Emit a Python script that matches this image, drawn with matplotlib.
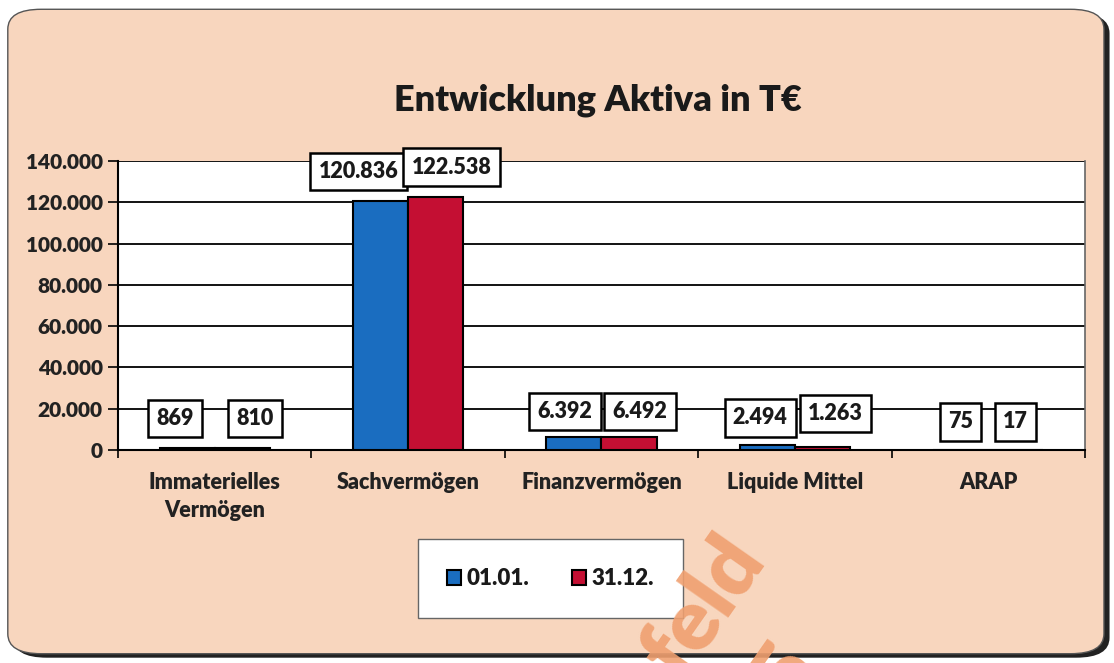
import matplotlib
matplotlib.use("Agg")
import matplotlib.pyplot as plt
from matplotlib.patches import FancyBboxPatch
from matplotlib.ticker import FuncFormatter
import numpy as np

categories = ["Immaterielles\nVermögen", "Sachvermögen", "Finanzvermögen", "Liquide Mittel", "ARAP"]
series_names = ["01.01.", "31.12."]
values_0101 = [869, 120836, 6392, 2494, 75]
values_3112 = [810, 122538, 6492, 1263, 17]
yticks = [0, 20000, 40000, 60000, 80000, 100000, 120000, 140000]
title = "Entwicklung Aktiva in T€"

# layout: label box offsets (px) relative to bar top-center
offs_0101 = [(-12, 30), (-22, 29), (-9, 25), (-7, 27), (0, 28)]
offs_3112 = [(13, 30), (16, 30), (11, 25), (13, 34), (0, 28)]

blue = "#1A6DC0"
red = "#C40F33"
bg = "#F8D6BE"
font = "Lato"
W = "heavy"
PX = 72 / 100.0

def fmt(v):
    return f"{v:,.0f}".replace(",", ".")

fig = plt.figure(figsize=(11.14, 6.63), dpi=100)
fig.patch.set_facecolor("white")

shadow = FancyBboxPatch((0.012, 0.008), 0.984, 0.972, boxstyle="round,pad=0,rounding_size=0.03",
                        transform=fig.transFigure, facecolor="#222222", edgecolor="none", zorder=0)
fig.patches.append(shadow)
panel = FancyBboxPatch((0.007, 0.014), 0.984, 0.972, boxstyle="round,pad=0,rounding_size=0.03",
                       transform=fig.transFigure, facecolor=bg, edgecolor="#555555", linewidth=1.0, zorder=1)
fig.patches.append(panel)

ax = fig.add_axes([0.1059, 0.3213, 0.8680, 0.4359])
ax.set_facecolor("white")
ax.set_zorder(2)

x = np.arange(len(categories))
w = 0.285
b1 = ax.bar(x - w/2, values_0101, width=w, color=blue, edgecolor="black", linewidth=1.5, zorder=3)
b2 = ax.bar(x + w/2, values_3112, width=w, color=red, edgecolor="black", linewidth=1.5, zorder=3)

ax.set_xlim(-0.5, len(categories) - 0.5)
ax.set_ylim(0, 140000)
ax.set_yticks(yticks)
ax.yaxis.set_major_formatter(FuncFormatter(lambda v, p: fmt(v)))
ax.grid(axis="y", color="black", linewidth=1.3, zorder=1)
ax.set_axisbelow(True)

ax.set_xticks(x)
ax.set_xticklabels(categories, fontsize=15.5, fontweight=W, family=font, color="#222222", linespacing=1.4)
ax.set_xticks(np.arange(-0.5, len(categories)), minor=True)
ax.tick_params(axis="x", which="major", length=0, pad=16)
ax.tick_params(axis="x", which="minor", length=6, width=1.2, color="black")
ax.tick_params(axis="y", length=7, width=1.2, pad=4)
for lab in ax.get_yticklabels():
    lab.set_fontsize(15)
    lab.set_fontweight(W)
    lab.set_family(font)
    lab.set_color("#222222")

for s in ["left", "bottom"]:
    ax.spines[s].set_color("black")
    ax.spines[s].set_linewidth(1.5)
ax.spines["top"].set_visible(False)
ax.spines["right"].set_color("#666666")
ax.spines["right"].set_linewidth(1.2)

def label(bars, vals, offs):
    for b, v, (dx, dy) in zip(bars, vals, offs):
        cx = b.get_x() + b.get_width() / 2
        ax.annotate(fmt(v), xy=(cx, v), xytext=(dx * PX, dy * PX), textcoords="offset points",
                    ha="center", va="center", fontsize=15.5, fontweight=W, family=font,
                    color="#1a1a1a", zorder=5, annotation_clip=False,
                    bbox=dict(boxstyle="square,pad=0.38", facecolor="white", edgecolor="black", linewidth=1.8))

label(b1, values_0101, offs_0101)
label(b2, values_3112, offs_3112)

fig.text(0.537, 0.849, title, ha="center", va="center", fontsize=26, fontweight=W,
         family=font, color="#1a1a1a")

leg = fig.legend([b1, b2], series_names, loc="center", bbox_to_anchor=(0.494, 0.127),
                 ncol=2, frameon=True, fancybox=False, framealpha=1.0,
                 prop=dict(family=font, weight=W, size=16),
                 handlelength=0.65, handleheight=0.65, handletextpad=0.25, columnspacing=1.9,
                 borderpad=1.3, borderaxespad=0)
leg.get_frame().set_edgecolor("#666666")
leg.get_frame().set_facecolor("white")
leg.get_frame().set_linewidth(1.0)
leg.set_zorder(3)
for t in leg.get_texts():
    t.set_color("#1a1a1a")

# watermark
fig.text(0.632, 0.085, "feld", rotation=55, fontsize=62, fontweight="heavy", family=font,
         color="#F0A070", alpha=0.9, ha="center", va="center", zorder=4)
fig.text(0.705, -0.015, "5", rotation=55, fontsize=62, fontweight="heavy", family=font,
         color="#F0A070", alpha=0.9, ha="center", va="center", zorder=4)

fig.savefig("out.png", dpi=100, facecolor=fig.get_facecolor())
